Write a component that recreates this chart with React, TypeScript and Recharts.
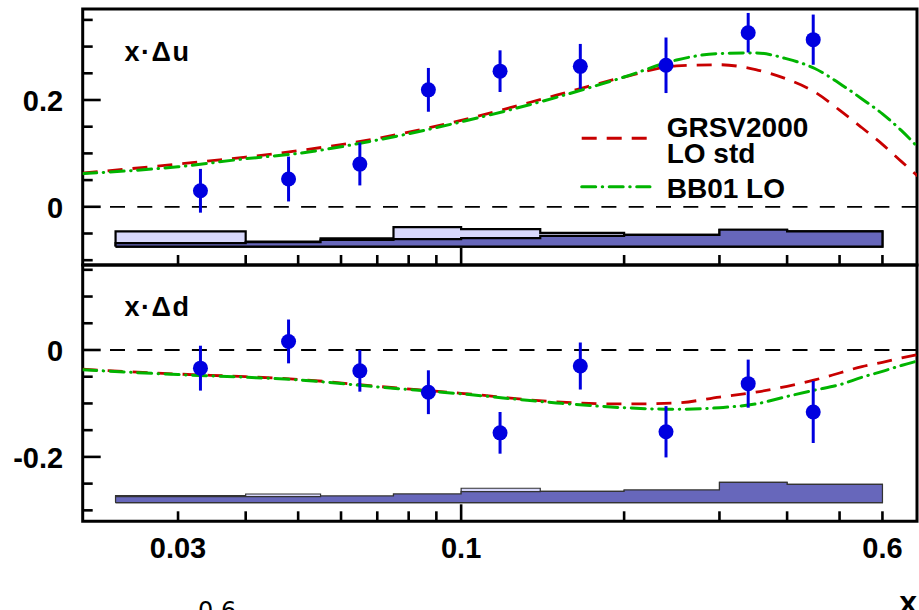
import {
  ComposedChart,
  Line,
  Area,
  Scatter,
  ErrorBar,
  XAxis,
  YAxis,
  ReferenceLine,
  ReferenceArea,
  Legend,
  Label,
} from "recharts";

const FONT = '"Liberation Sans", Arial, Helvetica, sans-serif';
const RED = "#c80000";
const GREEN = "#00b400";
const BLUE = "#0000e0";
const RED_DASH = "15 10";
// drawn with round caps, so the tiny dash shows up as a dot
const GREEN_DASH = "14 6.5 0.5 6.5";

// axis ranges and ticks
const xDomain = [0.02, 0.695];
const uDomain = [-0.109, 0.3704];
const dDomain = [-0.3205, 0.159];
const xTicks = [0.03, 0.04, 0.05, 0.06, 0.07, 0.08, 0.09, 0.1, 0.2, 0.3, 0.4, 0.5, 0.6];
const xLabels = [0.03, 0.1, 0.6];
const xMajor = [0.1];
const uTicks = [-0.1, -0.05, 0, 0.05, 0.1, 0.15, 0.2, 0.25, 0.3, 0.35];
const dTicks = [-0.3, -0.25, -0.2, -0.15, -0.1, -0.05, 0, 0.05, 0.1, 0.15];
const yLabels = [-0.2, 0, 0.2];

// measured points
const xPoints = [0.033, 0.048, 0.065, 0.087, 0.118, 0.166, 0.239, 0.339, 0.447];
const uValues = [0.030, 0.052, 0.080, 0.219, 0.254, 0.263, 0.265, 0.326, 0.313];
const uErrors = [0.041, 0.042, 0.040, 0.041, 0.039, 0.042, 0.052, 0.037, 0.047];
const dValues = [-0.034, 0.016, -0.039, -0.079, -0.155, -0.030, -0.153, -0.063, -0.116];
const dErrors = [0.042, 0.041, 0.039, 0.041, 0.039, 0.044, 0.048, 0.045, 0.058];

// parametrisations
const curveX = [0.02, 0.03, 0.04, 0.05, 0.07, 0.1, 0.15, 0.2, 0.25, 0.3, 0.35, 0.4, 0.45, 0.5, 0.55, 0.6, 0.65, 0.7];
const grsvU = [0.063, 0.080, 0.093, 0.105, 0.128, 0.162, 0.209, 0.243, 0.264, 0.266, 0.257, 0.239, 0.215, 0.181, 0.148, 0.117, 0.085, 0.056];
const bb01U = [0.062, 0.075, 0.090, 0.100, 0.125, 0.159, 0.205, 0.243, 0.275, 0.287, 0.288, 0.277, 0.259, 0.231, 0.202, 0.174, 0.143, 0.110];
const grsvD = [-0.036, -0.045, -0.050, -0.055, -0.068, -0.081, -0.097, -0.101, -0.099, -0.088, -0.079, -0.068, -0.056, -0.043, -0.031, -0.023, -0.015, -0.008];
const bb01D = [-0.037, -0.046, -0.051, -0.056, -0.069, -0.082, -0.099, -0.108, -0.111, -0.108, -0.101, -0.087, -0.075, -0.065, -0.051, -0.040, -0.029, -0.020];

// systematic error bands
const binEdges = [0.023, 0.04, 0.055, 0.075, 0.1, 0.14, 0.2, 0.3, 0.4, 0.6];
const sysBaseU = -0.0745;
const sysLightU = [-0.046, -0.065, -0.059, -0.038, -0.042, -0.049, -0.0525, -0.043, -0.046];
const sysDarkU = [-0.068, -0.066, -0.062, -0.0605, -0.0587, -0.0544, -0.0525, -0.043, -0.046];
const sysBaseD = -0.2857;
const sysLightD = [-0.2726, -0.2694, -0.2732, -0.2694, -0.2587, -0.2644, -0.2619, -0.2475, -0.2513];
const sysDarkD = [-0.2745, -0.2745, -0.2732, -0.2694, -0.2651, -0.2644, -0.2619, -0.2475, -0.2513];

const legendItems = [
  { lines: ["GRSV2000", "LO std"], color: RED, dash: RED_DASH, cap: "butt" },
  { lines: ["BB01 LO"], color: GREEN, dash: GREEN_DASH, cap: "round" },
];

const pointsOf = (values: number[], errors: number[]) =>
  xPoints.map((x, i) => ({ x, y: values[i], err: errors[i] }));
const curveOf = (values: number[]) => curveX.map((x, i) => ({ x, y: values[i] }));
// closed step outline: up the left side, along the tops, down the right side, back along the base
const bandOf = (tops: number[], base: number) => {
  const n = tops.length;
  const pts = [{ x: binEdges[0], y: base }];
  tops.forEach((t, i) => pts.push({ x: binEdges[i], y: t }));
  pts.push({ x: binEdges[n], y: tops[n - 1] });
  pts.push({ x: binEdges[n], y: base });
  pts.push({ x: binEdges[0], y: base });
  return pts;
};

const near = (list: number[], v: number) => list.some((l) => Math.abs(l - v) < 1e-6);
const fmt = (v: number) => (Math.abs(v) < 1e-9 ? "0" : String(v));

const renderYTick = (props: any) => {
  const { x, y, payload } = props;
  const major = near(yLabels, payload.value);
  return (
    <g>
      <line x1={x} x2={x + (major ? 18 : 10)} y1={y} y2={y} stroke="#000" strokeWidth={2.6} />
      {major && (
        <text x={x - 19.5} y={y + 11.5} textAnchor="end" fontFamily={FONT} fontWeight="bold" fontSize={29} fill="#000">
          {fmt(payload.value)}
        </text>
      )}
    </g>
  );
};

const makeXTick = (showLabels: boolean) => (props: any) => {
  const { x, y, payload } = props;
  const major = near(xMajor, payload.value);
  return (
    <g>
      <line x1={x} x2={x} y1={y} y2={y - (major ? 17 : 10)} stroke="#000" strokeWidth={2.6} />
      {showLabels && near(xLabels, payload.value) && (
        <text x={x} y={y + 37} textAnchor="middle" fontFamily={FONT} fontWeight="bold" fontSize={29} fill="#000">
          {String(payload.value)}
        </text>
      )}
    </g>
  );
};

const LegendBox = () => (
  <svg width={320} height={100} style={{ display: "block" }}>
    {legendItems.map((item, i) => {
      const lineY = i === 0 ? 33.3 : 81.7;
      const textY = i === 0 ? 31.7 : 93.3;
      return (
        <g key={i}>
          <line
            x1={6.7}
            x2={75}
            y1={lineY}
            y2={lineY}
            stroke={item.color}
            strokeWidth={3}
            strokeDasharray={item.dash}
            strokeLinecap={item.cap as any}
          />
          {item.lines.map((t, j) => (
            <text key={j} x={91.7} y={textY + j * 26} fontFamily={FONT} fontWeight="bold" fontSize={28} fill="#000">
              {t}
            </text>
          ))}
        </g>
      );
    })}
  </svg>
);

interface PanelProps {
  top: number;
  height: number;
  marginTop: number;
  xAxisHeight: number;
  domain: number[];
  yTicks: number[];
  values: number[];
  errors: number[];
  grsv: number[];
  bb01: number[];
  light: number[];
  dark: number[];
  base: number;
  bandStroke: string;
  bandStrokeWidth: number;
  bottomPanel?: boolean;
  legend?: boolean;
}

function Panel(p: PanelProps) {
  return (
    <div style={{ position: "absolute", left: 0, top: p.top }}>
      <ComposedChart width={919} height={p.height} margin={{ top: p.marginTop, right: 2, bottom: 0, left: 0 }}>
        <XAxis
          dataKey="x"
          type="number"
          scale="log"
          domain={xDomain}
          allowDataOverflow
          ticks={xTicks}
          interval={0}
          tick={makeXTick(!!p.bottomPanel)}
          tickLine={false}
          axisLine={false}
          tickSize={0}
          tickMargin={0}
          height={p.xAxisHeight}
        >
          {p.bottomPanel && (
            <Label
              content={(lp: any) => {
                const vb = lp.viewBox || {};
                return (
                  <text x={vb.x + vb.width} y={vb.y + 92} textAnchor="end" fontFamily={FONT} fontWeight="bold" fontSize={32} fill="#000">
                    x
                  </text>
                );
              }}
            />
          )}
        </XAxis>
        <YAxis
          dataKey="y"
          type="number"
          domain={p.domain}
          allowDataOverflow
          ticks={p.yTicks}
          interval={0}
          width={82.7}
          tick={renderYTick}
          tickLine={false}
          axisLine={false}
          tickSize={0}
          tickMargin={0}
        />
        <Area
          data={bandOf(p.light, p.base)}
          dataKey="y"
          type="stepAfter"
          baseValue={p.base}
          fill="#d8d8fb"
          fillOpacity={1}
          stroke={p.bandStroke}
          strokeWidth={p.bandStrokeWidth}
          isAnimationActive={false}
        />
        <Area
          data={bandOf(p.dark, p.base)}
          dataKey="y"
          type="stepAfter"
          baseValue={p.base}
          fill="#6767bb"
          fillOpacity={1}
          stroke={p.bandStroke}
          strokeWidth={p.bandStrokeWidth}
          isAnimationActive={false}
        />
        <ReferenceLine y={0} stroke="#000" strokeWidth={1.8} strokeDasharray="15 12.3" />
        <Line
          data={curveOf(p.grsv)}
          dataKey="y"
          type="monotone"
          stroke={RED}
          strokeWidth={2.8}
          strokeDasharray={RED_DASH}
          dot={false}
          activeDot={false}
          isAnimationActive={false}
        />
        <Line
          data={curveOf(p.bb01)}
          dataKey="y"
          type="monotone"
          stroke={GREEN}
          strokeWidth={3}
          strokeDasharray={GREEN_DASH}
          strokeLinecap="round"
          dot={false}
          activeDot={false}
          isAnimationActive={false}
        />
        <Scatter
          data={pointsOf(p.values, p.errors)}
          dataKey="y"
          fill={BLUE}
          isAnimationActive={false}
          shape={(s: any) => <circle cx={s.cx} cy={s.cy} r={7.5} fill={BLUE} />}
        >
          <ErrorBar dataKey="err" direction="y" width={0} stroke={BLUE} strokeWidth={3} isAnimationActive={false} />
        </Scatter>
        <ReferenceArea
          x1={xDomain[0]}
          x2={xDomain[1]}
          y1={p.domain[0]}
          y2={p.domain[1]}
          fill="none"
          fillOpacity={0}
          stroke="#000"
          strokeWidth={3}
        />
        {p.legend && (
          <Legend
            layout="vertical"
            align="center"
            verticalAlign="middle"
            content={() => <LegendBox />}
            wrapperStyle={{ position: "absolute", left: 575, top: 105, width: 320, height: 100 }}
          />
        )}
      </ComposedChart>
    </div>
  );
}

const labelStyle = {
  position: "absolute" as const,
  left: 124.5,
  fontFamily: FONT,
  fontWeight: "bold" as const,
  fontSize: 27,
  lineHeight: 1,
  letterSpacing: 1.5,
  color: "#000",
  whiteSpace: "nowrap" as const,
};

export default function App() {
  return (
    <div style={{ position: "absolute", left: 0, top: 0, width: 919, height: 610, background: "#fff", overflow: "hidden" }}>
      <Panel
        top={0}
        height={270}
        marginTop={9}
        xAxisHeight={5}
        domain={uDomain}
        yTicks={uTicks}
        values={uValues}
        errors={uErrors}
        grsv={grsvU}
        bb01={bb01U}
        light={sysLightU}
        dark={sysDarkU}
        base={sysBaseU}
        bandStroke="#000"
        bandStrokeWidth={2.2}
        legend
      />
      <Panel
        top={255}
        height={355}
        marginTop={10}
        xAxisHeight={88.7}
        domain={dDomain}
        yTicks={dTicks}
        values={dValues}
        errors={dErrors}
        grsv={grsvD}
        bb01={bb01D}
        light={sysLightD}
        dark={sysDarkD}
        base={sysBaseD}
        bandStroke="#333"
        bandStrokeWidth={1.2}
        bottomPanel
      />
      <div style={{ ...labelStyle, top: 38.8 }}>x·Δu</div>
      <div style={{ ...labelStyle, top: 293.8 }}>x·Δd</div>
      <div
        style={{
          position: "absolute",
          left: 198,
          top: 598.9,
          fontFamily: '"DejaVu Sans", sans-serif',
          fontSize: 24,
          lineHeight: 1,
          color: "#000",
        }}
      >
        0.6
      </div>
    </div>
  );
}
